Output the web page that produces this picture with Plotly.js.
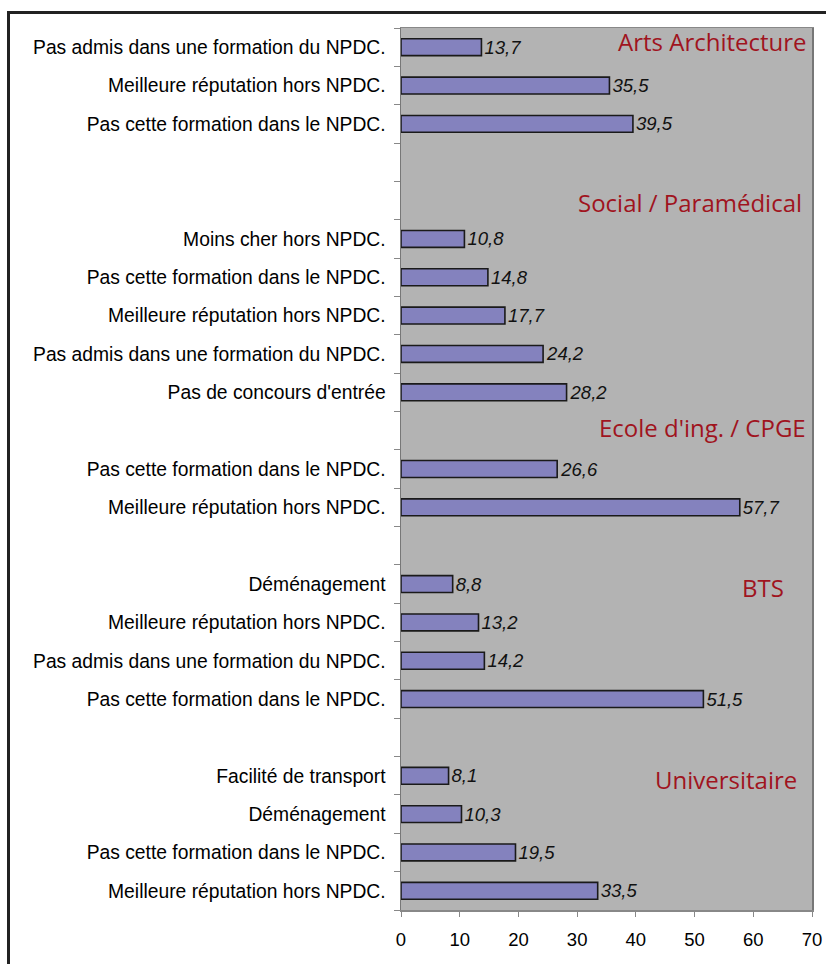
<!DOCTYPE html>
<html>
<head>
<meta charset="utf-8">
<script src="https://cdn.plot.ly/plotly-3.0.1.min.js"></script>
<style>
  html, body { margin: 0; padding: 0; background: #ffffff; }
  #frame { position: absolute; left: 7px; top: 11px; width: 900px; height: 1000px;
           border-left: 3px solid #222; border-top: 3px solid #222; z-index: 0; }
  #chart { position: absolute; left: 0; top: 0; width: 826px; height: 964px; z-index: 1; }
</style>
</head>
<body>
<div id="frame"></div>
<div id="chart"></div>
<script>
// Categories (top to bottom); empty strings are spacer rows between groups
const categories = [
  "Pas admis dans une formation du NPDC.",
  "Meilleure réputation hors NPDC.",
  "Pas cette formation dans le NPDC.",
  "",
  "",
  "Moins cher hors NPDC.",
  "Pas cette formation dans le NPDC.",
  "Meilleure réputation hors NPDC.",
  "Pas admis dans une formation du NPDC.",
  "Pas de concours d'entrée",
  "",
  "Pas cette formation dans le NPDC.",
  "Meilleure réputation hors NPDC.",
  "",
  "Déménagement",
  "Meilleure réputation hors NPDC.",
  "Pas admis dans une formation du NPDC.",
  "Pas cette formation dans le NPDC.",
  "",
  "Facilité de transport",
  "Déménagement",
  "Pas cette formation dans le NPDC.",
  "Meilleure réputation hors NPDC."
];
const values = [
  13.7, 35.5, 39.5,
  null, null,
  10.8, 14.8, 17.7, 24.2, 28.2,
  null,
  26.6, 57.7,
  null,
  8.8, 13.2, 14.2, 51.5,
  null,
  8.1, 10.3, 19.5, 33.5
];
const groupNames = ["Arts Architecture", "Social / Paramédical", "Ecole d'ing. / CPGE", "BTS", "Universitaire"];
const groupRows  = [-0.15, 4.05, 9.92, 14.1, 19.1];
const groupRight = [69.5, 68.7, 69.3, 65.6, 67.8];
const xTicks = [0, 10, 20, 30, 40, 50, 60, 70];

const rowIdx = categories.map((_, i) => i);

const trace = {
  type: 'bar',
  orientation: 'h',
  x: values,
  y: rowIdx,
  width: 0.44,
  marker: { color: '#8482BE', line: { color: '#1a1a1a', width: 1.6 } },
  texttemplate: '%{x:.1f}',
  textposition: 'outside',
  constraintext: 'none',
  cliponaxis: false,
  textfont: { family: 'Liberation Sans, Arial, sans-serif', size: 18.5, color: '#111', style: 'italic' },
  hoverinfo: 'none'
};

const annotations = groupNames.map((g, i) => ({
  text: g,
  x: groupRight[i], xref: 'x', xanchor: 'right',
  y: groupRows[i], yref: 'y', yanchor: 'middle',
  showarrow: false,
  font: { family: 'Open Sans, sans-serif', size: 24, color: '#A0141E' }
}));

const layout = {
  width: 826, height: 964,
  margin: { l: 401, r: 14, t: 28, b: 54 },
  paper_bgcolor: 'rgba(0,0,0,0)',
  plot_bgcolor: '#B3B3B3',
  separators: ', ',
  showlegend: false,
  xaxis: {
    range: [0, 70],
    tickvals: xTicks,
    ticks: 'outside', ticklen: 5, tickcolor: '#888', tickwidth: 1,
    showgrid: false, zeroline: false,
    showline: true, linecolor: '#888', linewidth: 1.5, mirror: true,
    tickfont: { family: 'Liberation Sans, Arial, sans-serif', size: 18.5, color: '#000' },
    ticklabelstandoff: 7
  },
  yaxis: {
    range: [22.5, -0.5],
    tickvals: rowIdx,
    ticktext: categories,
    ticks: '',
    showgrid: false, zeroline: false,
    showline: true, linecolor: '#777', linewidth: 1.5, mirror: true,
    tickfont: { family: 'Liberation Sans, Arial, sans-serif', size: 19.3, color: '#000' },
    ticklabelstandoff: 10,
    minor: { ticks: 'outside', ticklen: 6, tickcolor: '#888', tickwidth: 1, tick0: -0.5, dtick: 1, showgrid: false }
  },
  annotations: annotations
};

Plotly.newPlot('chart', [trace], layout, { displayModeBar: false, staticPlot: true });
</script>
</body>
</html>
